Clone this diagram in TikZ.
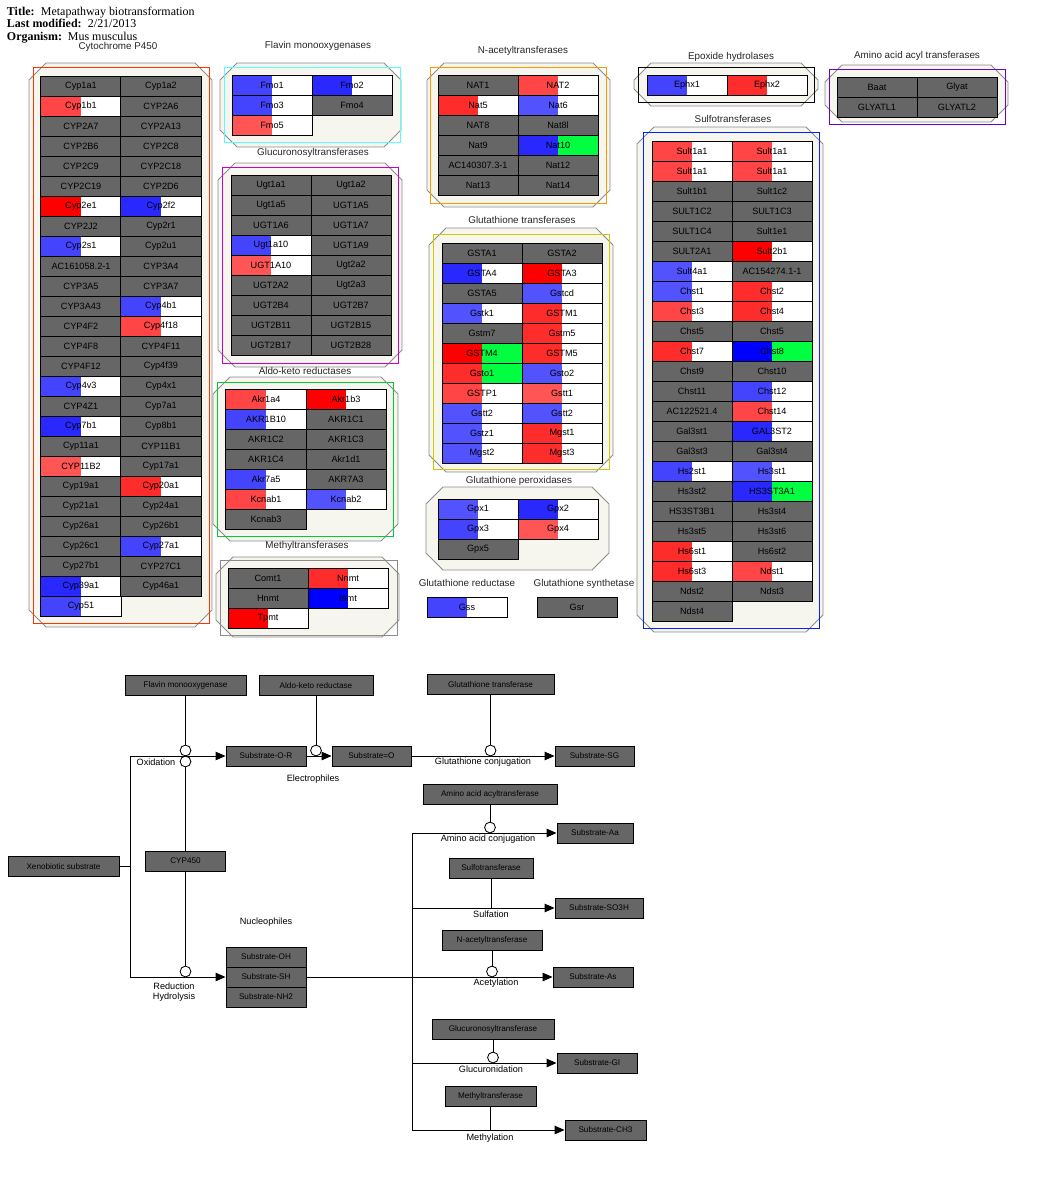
\documentclass[tikz,border=0pt]{standalone}
\usepackage{fontspec}
\setmainfont{Liberation Serif}
\setsansfont{Liberation Sans}
\usetikzlibrary{arrows.meta, positioning}
\definecolor{gy}{RGB}{102,102,102}
\definecolor{r1}{RGB}{255,0,0}
\definecolor{r2}{RGB}{255,44,44}
\definecolor{r3}{RGB}{255,69,69}
\definecolor{r4}{RGB}{255,85,85}
\definecolor{b1}{RGB}{0,0,255}
\definecolor{b2}{RGB}{40,40,255}
\definecolor{b3}{RGB}{68,68,255}
\definecolor{b4}{RGB}{82,82,255}
\definecolor{gn}{RGB}{0,255,64}
\definecolor{groupFill}{RGB}{246,245,238}
\definecolor{groupLine}{RGB}{140,140,140}
\definecolor{frameCyp}{RGB}{255,51,0}
\definecolor{frameFmo}{RGB}{85,255,255}
\definecolor{frameUgt}{RGB}{204,0,204}
\definecolor{frameAkr}{RGB}{0,204,51}
\definecolor{frameNat}{RGB}{255,153,0}
\definecolor{frameGst}{RGB}{204,204,0}
\definecolor{frameAat}{RGB}{102,0,204}
\definecolor{frameSult}{RGB}{0,34,255}

% chamfered group outline
\newcommand{\groupoct}[4]{\draw[groupbg] ({#1+17},#2) -- ({#3-17},#2) -- (#3,{#2+17}) -- (#3,{#4-17}) -- ({#3-17},#4) -- ({#1+17},#4) -- (#1,{#4-17}) -- (#1,{#2+17}) -- cycle;}
% two-column gene grid
\newcommand{\genegrid}[4]{%
  \foreach \lbl/\ck [count=\i from 0] in {#4} {
    \pgfmathtruncatemacro{\gc}{mod(\i,2)}
    \pgfmathtruncatemacro{\gr}{floor(\i/2)}
    \node[gene, c-\ck] (#1\i) at ({#2+40+80*\gc},{#3+10+20*\gr}) {\lbl};
  }}

\begin{document}
\begin{tikzpicture}[
    x=0.025cm, y=-0.025cm,
    groupbg/.style={fill=groupFill, draw=groupLine, line width=0.6pt},
    frame/.style={line width=0.7pt},
    grouplabel/.style={font=\sffamily\fontsize{7}{8}\selectfont, text=black!85, inner sep=0pt},
    gene/.style={
        rectangle,
        draw=black,
        line width=0.7pt,
        minimum width=2cm,
        minimum height=0.5cm,
        inner sep=0pt,
        font=\sffamily\fontsize{6.5}{7}\selectfont
    },
    hit/.style 2 args={fill=#2, path picture={\fill[#1] (path picture bounding box.south west) rectangle (path picture bounding box.north);}},
    c-gy/.style={fill=gy},
    c-r1/.style={hit={r1}{white}},
    c-r2/.style={hit={r2}{white}},
    c-r3/.style={hit={r3}{white}},
    c-r4/.style={hit={r4}{white}},
    c-b1/.style={hit={b1}{white}},
    c-b2/.style={hit={b2}{white}},
    c-b3/.style={hit={b3}{white}},
    c-b4/.style={hit={b4}{white}},
    c-b1g/.style={hit={b1}{gn}},
    c-b2g/.style={hit={b2}{gn}},
    c-r1g/.style={hit={r1}{gn}},
    c-r2g/.style={hit={r2}{gn}},
    enz/.style={
        rectangle,
        draw=black,
        fill=gy,
        line width=0.7pt,
        minimum height=0.5cm,
        inner sep=0pt,
        font=\sffamily\fontsize{5.8}{7}\selectfont
    },
    bw/.style={minimum width=#1*0.025cm},
    circ/.style={circle, draw=black, fill=white, line width=0.6pt, inner sep=0pt, minimum size=0.27cm},
    conn/.style={line width=0.7pt},
    flow/.style={line width=0.7pt, -{Triangle[length=7pt,width=6pt]}},
    plabel/.style={font=\sffamily\fontsize{6.5}{7.5}\selectfont, inner sep=0pt, align=center}
]
\useasboundingbox (0,0) rectangle (1039,1178);

% Header
\node[anchor=base west, font=\fontsize{8.5}{10}\selectfont\bfseries] (ttlkey) at (2,15) {Title:};
\node[anchor=base west, font=\fontsize{8.5}{10}\selectfont] (ttlval) at (36,15) {Metapathway biotransformation};
\node[anchor=base west, font=\fontsize{8.5}{10}\selectfont\bfseries] (modkey) at (2,27) {Last modified:};
\node[anchor=base west, font=\fontsize{8.5}{10}\selectfont] (modval) at (83,27) {2/21/2013};
\node[anchor=base west, font=\fontsize{8.5}{10}\selectfont\bfseries] (orgkey) at (2,40) {Organism:};
\node[anchor=base west, font=\fontsize{8.5}{10}\selectfont] (orgval) at (63,40) {Mus musculus};

% Cytochrome P450
\groupoct{29}{63}{212}{627}
\draw[frame, frameCyp] (33,67) rectangle (209,623);
\node[grouplabel] (lcyp) at (118,47) {Cytochrome P450};
\genegrid{cyp}{41}{76}{Cyp1a1/gy, Cyp1a2/gy, Cyp1b1/r3, CYP2A6/gy, CYP2A7/gy, CYP2A13/gy,
  CYP2B6/gy, CYP2C8/gy, CYP2C9/gy, CYP2C18/gy, CYP2C19/gy, CYP2D6/gy, Cyp2e1/r1, Cyp2f2/b2,
  CYP2J2/gy, Cyp2r1/gy, Cyp2s1/b3, Cyp2u1/gy, AC161058.2-1/gy, CYP3A4/gy, CYP3A5/gy, CYP3A7/gy,
  CYP3A43/gy, Cyp4b1/b3, CYP4F2/gy, Cyp4f18/r3, CYP4F8/gy, CYP4F11/gy, CYP4F12/gy, Cyp4f39/gy,
  Cyp4v3/b3, Cyp4x1/gy, CYP4Z1/gy, Cyp7a1/gy, Cyp7b1/b2, Cyp8b1/gy, Cyp11a1/gy, CYP11B1/gy,
  CYP11B2/r4, Cyp17a1/gy, Cyp19a1/gy, Cyp20a1/r2, Cyp21a1/gy, Cyp24a1/gy, Cyp26a1/gy, Cyp26b1/gy,
  Cyp26c1/gy, Cyp27a1/b3, Cyp27b1/gy, CYP27C1/gy, Cyp39a1/b2, Cyp46a1/gy, Cyp51/b3}

% Flavin monooxygenases
\groupoct{220}{63}{401}{147}
\draw[frame, frameFmo] (224,67) rectangle (400,142);
\node[grouplabel] (lfmo) at (318,46) {Flavin monooxygenases};
\genegrid{fmo}{232}{75}{Fmo1/b3, Fmo2/b2, Fmo3/b3, Fmo4/gy, Fmo5/r4}

% Glucuronosyltransferases
\groupoct{218}{163}{402}{367}
\draw[frame, frameUgt] (222,167) rectangle (398,363);
\node[grouplabel] (lugt) at (313,153) {Glucuronosyltransferases};
\genegrid{ugt}{231}{175}{Ugt1a1/gy, Ugt1a2/gy, Ugt1a5/gy, UGT1A5/gy, UGT1A6/gy, UGT1A7/gy,
  Ugt1a10/b3, UGT1A9/gy, UGT1A10/r4, Ugt2a2/gy, UGT2A2/gy, Ugt2a3/gy, UGT2B4/gy, UGT2B7/gy,
  UGT2B11/gy, UGT2B15/gy, UGT2B17/gy, UGT2B28/gy}

% Aldo-keto reductases
\groupoct{213}{377}{398}{541}
\draw[frame, frameAkr] (217,382) rectangle (393,536);
\node[grouplabel] (lakr) at (305,371) {Aldo-keto reductases};
\genegrid{akr}{226}{389}{Akr1a4/r3, Akr1b3/r1, AKR1B10/b3, AKR1C1/gy, AKR1C2/gy, AKR1C3/gy,
  AKR1C4/gy, Akr1d1/gy, Akr7a5/b3, AKR7A3/gy, Kcnab1/r3, Kcnab2/b4, Kcnab3/gy}

% Methyltransferases
\groupoct{216}{557}{399}{637}
\draw[frame, groupLine] (220,560) rectangle (397,635);
\node[grouplabel] (lmt) at (307,546) {Methyltransferases};
\genegrid{mt}{228}{568}{Comt1/gy, Nnmt/r2, Hnmt/gy, Inmt/b1, Tpmt/r1}

% N-acetyltransferases
\groupoct{427}{63}{610}{207}
\draw[frame, frameNat] (430,67) rectangle (606,203);
\node[grouplabel] (lnat) at (523,51) {N-acetyltransferases};
\genegrid{nat}{438}{75}{NAT1/gy, NAT2/r3, Nat5/r2, Nat6/b4, NAT8/gy, Nat8l/gy, Nat9/gy, Nat10/b2g,
  AC140307.3-1/gy, Nat12/gy, Nat13/gy, Nat14/gy}

% Glutathione transferases
\groupoct{429}{228}{613}{472}
\draw[frame, frameGst] (433,234) rectangle (609,469);
\node[grouplabel] (lgst) at (522,220) {Glutathione transferases};
\genegrid{gst}{442}{243}{GSTA1/gy, GSTA2/gy, GSTA4/b2, GSTA3/r1, GSTA5/gy, Gstcd/b4, Gstk1/b4, GSTM1/r2,
  Gstm7/gy, Gstm5/r2, GSTM4/r1g, GSTM5/r2, Gsto1/r2g, Gsto2/b4, GSTP1/r3, Gstt1/r4,
  Gstt2/b4, Gstt2/b4, Gstz1/b4, Mgst1/r2, Mgst2/b4, Mgst3/r2}

% Glutathione peroxidases, reductase, synthetase
\groupoct{426}{487}{609}{570}
\node[grouplabel] (lgpx) at (519,481) {Glutathione peroxidases};
\genegrid{gpx}{438}{499}{Gpx1/b4, Gpx2/b2, Gpx3/b3, Gpx4/r4, Gpx5/gy}
\node[grouplabel] (lgss) at (467,583) {Glutathione reductase};
\node[gene, c-b3] (gss) at (467,607) {Gss};
\node[grouplabel] (lgsr) at (584,584) {Glutathione synthetase};
\node[gene, c-gy] (gsr) at (577,607) {Gsr};

% Epoxide hydrolases
\groupoct{634}{63}{818}{106}
\draw[frame, black] (638,67) rectangle (814,102);
\node[grouplabel] (lephx) at (731,57) {Epoxide hydrolases};
\genegrid{ephx}{647}{75}{Ephx1/b3, Ephx2/r2}

% Amino acid acyl transferases
\groupoct{825}{65}{1008}{122}
\draw[frame, frameAat] (829,69) rectangle (1005,124);
\node[grouplabel] (laat) at (917,56) {Amino acid acyl transferases};
\genegrid{aat}{837}{77}{Baat/gy, Glyat/gy, GLYATL1/gy, GLYATL2/gy}

% Sulfotransferases
\groupoct{637}{127}{823}{632}
\draw[frame, frameSult] (643,132) rectangle (819,628);
\node[grouplabel] (lsult) at (733,119) {Sulfotransferases};
\genegrid{sult}{652}{141}{Sult1a1/r3, Sult1a1/r3, Sult1a1/r3, Sult1a1/r3, Sult1b1/gy, Sult1c2/gy,
  SULT1C2/gy, SULT1C3/gy, SULT1C4/gy, Sult1e1/gy, SULT2A1/gy, Sult2b1/r1, Sult4a1/b4, AC154274.1-1/gy,
  Chst1/b4, Chst2/r2, Chst3/r3, Chst4/r2, Chst5/gy, Chst5/gy, Chst7/r2, Chst8/b1g, Chst9/gy, Chst10/gy,
  Chst11/gy, Chst12/b3, AC122521.4/gy, Chst14/r3, Gal3st1/gy, GAL3ST2/b2, Gal3st3/gy, Gal3st4/gy,
  Hs2st1/b3, Hs3st1/b4, Hs3st2/gy, HS3ST3A1/b2g, HS3ST3B1/gy, Hs3st4/gy, Hs3st5/gy, Hs3st6/gy,
  Hs6st1/r2, Hs6st2/gy, Hs6st3/r2, Ndst1/r3, Ndst2/gy, Ndst3/gy, Ndst4/gy}

% Pathway - enzymes and substrates
\node[enz, bw=121] (efmo) at (185.5,685.5) {Flavin monooxygenase};
\node[enz, bw=114] (eakr) at (316,685.5) {Aldo-keto reductase};
\node[enz, bw=127] (egst) at (490.5,684.5) {Glutathione transferase};
\node[enz, bw=80] (sor) at (266,756) {Substrate-O-R};
\node[enz, bw=79] (sox) at (371.5,756) {Substrate=O};
\node[enz, bw=79] (ssg) at (594.5,756) {Substrate-SG};
\node[enz, bw=111] (xeno) at (63.5,866.5) {Xenobiotic substrate};
\node[enz, bw=80] (ecyp) at (185.5,861) {CYP450};
\node[enz, bw=134] (eaat) at (490,794.5) {Amino acid acyltransferase};
\node[enz, bw=76] (saa) at (595,833) {Substrate-Aa};
\node[enz, bw=84] (esult) at (491,868) {Sulfotransferase};
\node[enz, bw=88] (sso) at (599,908) {Substrate-SO3H};
\node[enz, bw=100] (enat) at (492,940.5) {N-acetyltransferase};
\node[enz, bw=80] (sas) at (593,977) {Substrate-As};
\node[enz, bw=122] (eugt) at (493,1029.5) {Glucuronosyltransferase};
\node[enz, bw=80] (sgl) at (597,1063) {Substrate-Gl};
\node[enz, bw=91] (emt) at (490.5,1096) {Methyltransferase};
\node[enz, bw=81] (sch) at (605.5,1130) {Substrate-CH3};
\node[enz, bw=80] (soh) at (266,957) {Substrate-OH};
\node[enz, bw=80] (ssh) at (266,977) {Substrate-SH};
\node[enz, bw=80] (snh) at (266,997) {Substrate-NH2};

% Junctions
\coordinate (jo) at (130,756);
\coordinate (jx) at (130,866.5);
\coordinate (jr) at (130,977);
\coordinate (ta) at (412,833);
\coordinate (ts) at (412,908);
\coordinate (tg) at (412,1063);
\coordinate (tm) at (412,1130);
\coordinate (psul) at (491,908);
\coordinate (pmt) at (490.5,1130);

% Catalysis circles
\node[circ] (cox1) at (185.5,750.5) {};
\node[circ] (cox2) at (185.5,761.5) {};
\node[circ] (cakr) at (316,750.5) {};
\node[circ] (cgst) at (490.5,750.5) {};
\node[circ] (caa) at (490,827.5) {};
\node[circ] (cnat) at (492,971.5) {};
\node[circ] (cugt) at (493,1057.5) {};
\node[circ] (cred) at (185.5,971.5) {};

% Connecting lines
\draw[conn] (xeno.east) -- (jx);
\draw[conn] (jo) -- (jr);
\draw[flow] (jo) -- (sor.west);
\draw[flow] (jr) -- (ssh.west);
\draw[flow] (sor.east) -- (sox.west);
\draw[flow] (sox.east) -- (ssg.west);
\draw[conn] (efmo.south) -- (cox1.north);
\draw[conn] (cox2.south) -- (ecyp.north);
\draw[conn] (ecyp.south) -- (cred.north);
\draw[conn] (eakr.south) -- (cakr.north);
\draw[conn] (egst.south) -- (cgst.north);
\draw[conn] (ta) -- (tm);
\draw[flow] (ta) -- (saa.west);
\draw[flow] (ts) -- (sso.west);
\draw[flow] (ssh.east) -- (sas.west);
\draw[flow] (tg) -- (sgl.west);
\draw[flow] (tm) -- (sch.west);
\draw[conn] (eaat.south) -- (caa.north);
\draw[conn] (esult.south) -- (psul);
\draw[conn] (enat.south) -- (cnat.north);
\draw[conn] (eugt.south) -- (cugt.north);
\draw[conn] (emt.south) -- (pmt);

% Labels
\node[plabel] (loxid) at (156,762) {Oxidation};
\node[plabel] (lelec) at (313,779) {Electrophiles};
\node[plabel] (lgsc) at (483,762) {Glutathione conjugation};
\node[plabel] (laac) at (488,839) {Amino acid conjugation};
\node[plabel] (lsulf) at (491,914) {Sulfation};
\node[plabel] (lnuc) at (266,922) {Nucleophiles};
\node[plabel] (lacet) at (496,983) {Acetylation};
\node[plabel] (lred) at (174,992) {Reduction\\Hydrolysis};
\node[plabel] (lgluc) at (491,1069) {Glucuronidation};
\node[plabel] (lmeth) at (490,1138) {Methylation};

\end{tikzpicture}
\end{document}
